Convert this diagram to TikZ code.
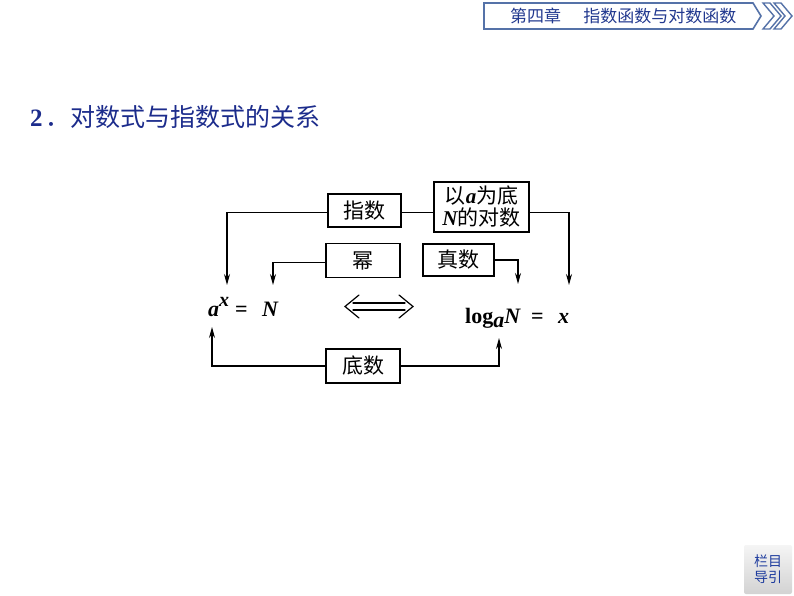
\documentclass[tikz,border=0pt]{standalone}
\usepackage{fontspec}
\setmainfont{Liberation Serif}
\newfontfamily\cjk{Noto Sans CJK SC}
\usetikzlibrary{arrows.meta,calc}
\definecolor{hdrline}{HTML}{5572A8}
\definecolor{hdrtext}{HTML}{22398F}
\definecolor{titleblue}{HTML}{1C2C8C}
\definecolor{btntext}{HTML}{1E3C9E}
\begin{document}
\begin{tikzpicture}[x=1pt,y=-1pt,
  box/.style={draw=black,line width=1.5pt,inner sep=0pt,font=\cjk\fontsize{21}{23}\selectfont},
  fml/.style={inner sep=0pt,font=\fontsize{22}{22}\selectfont\bfseries},
  arr/.style={line width=1.2pt,-{Stealth[length=11pt,width=6pt]}},
  conn/.style={line width=1.2pt}]
\useasboundingbox (0,0) rectangle (794,596);
\fill[white] (0,0) rectangle (794,596);
% header
\draw[hdrline,line width=1.6pt,fill=white] (484,3) -- (753,3) -- (761,16) -- (753,29) -- (484,29) -- cycle;
\draw[hdrline,line width=1.4pt,fill=white] (763,3) -- (770,3) -- (781,16) -- (770,29) -- (763,29) -- (774,16) -- cycle;
\draw[hdrline,line width=1.4pt,fill=white] (774,3) -- (781,3) -- (792,16) -- (781,29) -- (774,29) -- (785,16) -- cycle;
\node[text=hdrtext,font=\cjk\fontsize{17}{17}\selectfont,anchor=west,inner sep=0pt] (hdr) at (510,16) {第四章\hspace{1.3em}指数函数与对数函数};
% title
\node[text=titleblue,anchor=west,inner sep=0pt] (title) at (30,117) {\fontsize{25}{25}\selectfont\textbf{2}\hspace{0.1em}{\cjk ．对数式与指数式的关系}};
% boxes
\node[box,minimum width=73pt,minimum height=33pt] (zhishu) at (364.5,210.5) {指数};
\node[box,minimum width=95pt,minimum height=50pt,align=center] (yia) at (481.5,207) {以{\fontspec{Liberation Serif}\bfseries\itshape a}为底\\[-1pt]{\fontspec{Liberation Serif}\bfseries\itshape N}的对数};
\node[box,minimum width=74pt,minimum height=34pt] (mi) at (363,260.5) {幂};
\node[box,minimum width=71pt,minimum height=32pt] (zhen) at (458.5,260) {真数};
\node[box,minimum width=74pt,minimum height=34pt] (dishu) at (363,366) {底数};
% formulas
\node[fml,anchor=base west] (ax) at (208,316) {\textit{a}\raisebox{10pt}{\fontsize{20}{20}\selectfont\textit{x}}};
\node[fml,anchor=base west] (eq1) at (235,316) {=};
\node[fml,anchor=base west] (N1) at (262,316) {\textit{N}};
\node[fml,anchor=base west] (logN) at (465,323) {log\raisebox{-4pt}{\textit{a}}\textit{N}};
\node[fml,anchor=base west] (eq2) at (531,323) {=};
\node[fml,anchor=base west] (x2) at (558,323) {\textit{x}};
% arrow tips
\coordinate (t1) at (227,285);
\coordinate (t2) at (273,285);
\coordinate (t3) at (569,285);
\coordinate (t4) at (518,284);
\coordinate (t5) at (212,327);
\coordinate (t6) at (499,338);
% connectors
\draw[arr] ($(zhishu.west)+(0,2)$) -| (t1);
\draw[conn] ($(zhishu.east)+(0,2)$) -- ($(yia.west)+(0,5.5)$);
\draw[arr] ($(yia.east)+(0,5.5)$) -| (t3);
\draw[arr] ($(mi.west)+(0,2)$) -| (t2);
\draw[arr] (zhen.east) -| (t4);
\draw[arr] (dishu.west) -| (t5);
\draw[arr] (dishu.east) -| (t6);
% double arrow
\draw[line width=1.2pt,line cap=round] (353,303) -- (405,303) (353,310) -- (405,310);
\draw[line width=1.2pt,line cap=round,line join=miter] (359,295) -- (345,306.5) -- (359,318);
\draw[line width=1.2pt,line cap=round,line join=miter] (399,295) -- (413,306.5) -- (399,318);
% button
\shade[top color=gray!8,bottom color=gray!35,rounded corners=2pt] (744,545) rectangle (792,594);
\node[text=btntext,font=\cjk\fontsize{14}{16}\selectfont,align=center,inner sep=0pt] (btn) at (768,569) {栏目\\导引};
\end{tikzpicture}
\end{document}
